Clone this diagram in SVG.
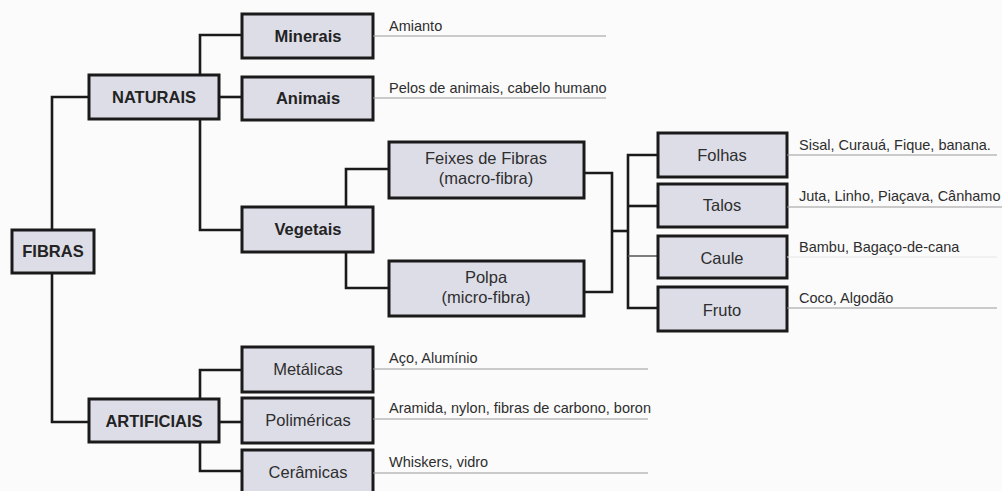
<svg xmlns="http://www.w3.org/2000/svg" width="1002" height="491" viewBox="0 0 1002 491">
<style>
.box{fill:#dddde8;stroke:#1a1a1a;stroke-width:3}
.lb{font-family:"Liberation Sans",Arial,sans-serif;font-size:16.5px;font-weight:bold;fill:#232323;text-anchor:middle}
.lr{font-family:"Liberation Sans",Arial,sans-serif;font-size:16.5px;fill:#2e2e2e;text-anchor:middle}
.d{font-family:"Liberation Sans",Arial,sans-serif;font-size:14.5px;fill:#2e2e2e}
.c{fill:none;stroke:#1a1a1a;stroke-width:2.6}
.u{stroke:#9a9a9a;stroke-width:1.2}
</style>
<rect width="1002" height="491" fill="#fbfbfb"/>
<g id="connectors">
<path class="c" d="M52,230 V97 H89"/>
<path class="c" d="M52,273 V422 H89"/>
<path class="c" d="M200,75 V35 H242"/>
<path class="c" d="M219,97 H242"/>
<path class="c" d="M200,119 V230 H242"/>
<path class="c" d="M346,207 V169 H389"/>
<path class="c" d="M346,252 V288 H389"/>
<path class="c" d="M584,173 H612 V292 H584"/>
<path class="c" d="M612,231 H628"/>
<path class="c" d="M658,155 H628 V308 H658"/>
<path class="c" d="M628,206 H658"/>
<path d="M628,256 H658" stroke="#555" stroke-width="1.5"/>
<path class="c" d="M200,399 V370 H242"/>
<path class="c" d="M219,422 H242"/>
<path class="c" d="M200,442 V471 H242"/>
</g>
<g id="fibras"><rect class="box" x="12" y="230" width="82" height="43"/><text class="lb" x="53" y="257">FIBRAS</text></g>
<g id="naturais"><rect class="box" x="89" y="75" width="130" height="44"/><text class="lb" x="154" y="103">NATURAIS</text></g>
<g id="artificiais"><rect class="box" x="89" y="399" width="130" height="43"/><text class="lb" x="154" y="427">ARTIFICIAIS</text></g>
<g id="minerais"><rect class="box" x="242" y="14" width="131" height="44"/><text class="lb" x="308" y="42">Minerais</text></g>
<g id="animais"><rect class="box" x="242" y="77" width="131" height="43"/><text class="lb" x="308" y="104">Animais</text></g>
<g id="vegetais"><rect class="box" x="242" y="207" width="131" height="45"/><text class="lb" x="308" y="235">Vegetais</text></g>
<g id="feixes"><rect class="box" x="389" y="142" width="195" height="56"/><text class="lr" x="486" y="164">Feixes de Fibras</text><text class="lr" x="486" y="184">(macro-fibra)</text></g>
<g id="polpa"><rect class="box" x="389" y="261" width="195" height="55"/><text class="lr" x="486" y="283">Polpa</text><text class="lr" x="486" y="303">(micro-fibra)</text></g>
<g id="folhas"><rect class="box" x="658" y="133" width="129" height="44"/><text class="lr" x="722" y="161">Folhas</text></g>
<g id="talos"><rect class="box" x="658" y="184" width="129" height="43"/><text class="lr" x="722" y="211">Talos</text></g>
<g id="caule"><rect class="box" x="658" y="236" width="129" height="42"/><text class="lr" x="722" y="264">Caule</text></g>
<g id="fruto"><rect class="box" x="658" y="287" width="129" height="44"/><text class="lr" x="722" y="316">Fruto</text></g>
<g id="metalicas"><rect class="box" x="242" y="347" width="131" height="45"/><text class="lr" x="308" y="375">Metálicas</text></g>
<g id="polimericas"><rect class="box" x="242" y="398" width="131" height="45"/><text class="lr" x="308" y="426">Poliméricas</text></g>
<g id="ceramicas"><rect class="box" x="242" y="450" width="131" height="46"/><text class="lr" x="308" y="478">Cerâmicas</text></g>
<g id="descriptions">
<text class="d" x="389" y="31">Amianto</text><line class="u" x1="373" y1="36" x2="606" y2="36"/>
<text class="d" x="389" y="93">Pelos de animais, cabelo humano</text><line class="u" x1="373" y1="98" x2="606" y2="98"/>
<text class="d" x="799" y="150">Sisal, Curauá, Fique, banana.</text><line class="u" x1="787" y1="155" x2="997" y2="155"/>
<text class="d" x="799" y="201">Juta, Linho, Piaçava, Cânhamo</text><line class="u" x1="787" y1="207" x2="1002" y2="207"/>
<text class="d" x="799" y="252">Bambu, Bagaço-de-cana</text><line x1="787" y1="257" x2="997" y2="257" stroke="#e6e6e6" stroke-width="1"/>
<text class="d" x="799" y="303">Coco, Algodão</text><line class="u" x1="787" y1="308" x2="997" y2="308"/>
<text class="d" x="389" y="363">Aço, Alumínio</text><line class="u" x1="373" y1="369" x2="648" y2="369"/>
<text class="d" x="389" y="413">Aramida, nylon, fibras de carbono, boron</text><line class="u" x1="373" y1="419" x2="648" y2="419"/>
<text class="d" x="389" y="467">Whiskers, vidro</text><line class="u" x1="373" y1="473" x2="648" y2="473"/>
</g>
</svg>
